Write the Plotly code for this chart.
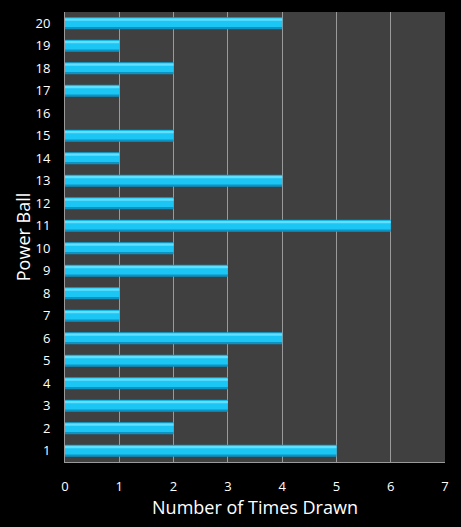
import plotly.graph_objects as go

balls = list(range(1, 21))
times_drawn = [5, 2, 3, 3, 3, 4, 1, 1, 3, 2, 6, 2, 4, 1, 2, 0, 1, 2, 1, 4]
x_ticks = [0, 1, 2, 3, 4, 5, 6, 7]

fig = go.Figure()
# darker outer shell of the bar
fig.add_trace(go.Bar(
    y=balls, x=times_drawn, orientation="h", width=0.54, offset=-0.27,
    marker=dict(color="#0C93C2", line=dict(width=0)),
    hoverinfo="x+y", showlegend=False,
))
# main cyan body
fig.add_trace(go.Bar(
    y=balls, x=times_drawn, orientation="h", width=0.42, offset=-0.17,
    marker=dict(color="#1CC6F4", line=dict(width=0)),
    hoverinfo="skip", showlegend=False,
))
# light highlight near the top
fig.add_trace(go.Bar(
    y=balls, x=times_drawn, orientation="h", width=0.10, offset=0.11,
    marker=dict(color="#62DEFF", line=dict(width=0)),
    hoverinfo="skip", showlegend=False,
))

fig.update_layout(
    width=461, height=527,
    margin=dict(l=65, r=16, t=12, b=65),
    paper_bgcolor="#000000",
    plot_bgcolor="#404040",
    barmode="overlay",
    font=dict(family="Open Sans", color="#FFFFFF", size=13),
    xaxis=dict(
        range=[0, 7], tickvals=x_ticks, showgrid=True, gridcolor="#9A9A9A", gridwidth=1,
        zeroline=False, showline=True, linecolor="#9A9A9A", linewidth=1,
        ticks="", ticklabelstandoff=12, automargin=False,
        title=dict(text="Number of Times Drawn", font=dict(size=18, color="#FFFFFF"), standoff=2),
        tickfont=dict(size=13, color="#FFFFFF"),
    ),
    yaxis=dict(
        range=[0.5, 20.5], tickvals=balls, showgrid=False, zeroline=False,
        showline=True, linecolor="#9A9A9A", linewidth=1, ticks="",
        ticklabelstandoff=11, automargin=False,
        title=dict(text="Power Ball", font=dict(size=18, color="#FFFFFF"), standoff=0),
        tickfont=dict(size=13, color="#FFFFFF"),
    ),
)

fig.write_html("out.html")
